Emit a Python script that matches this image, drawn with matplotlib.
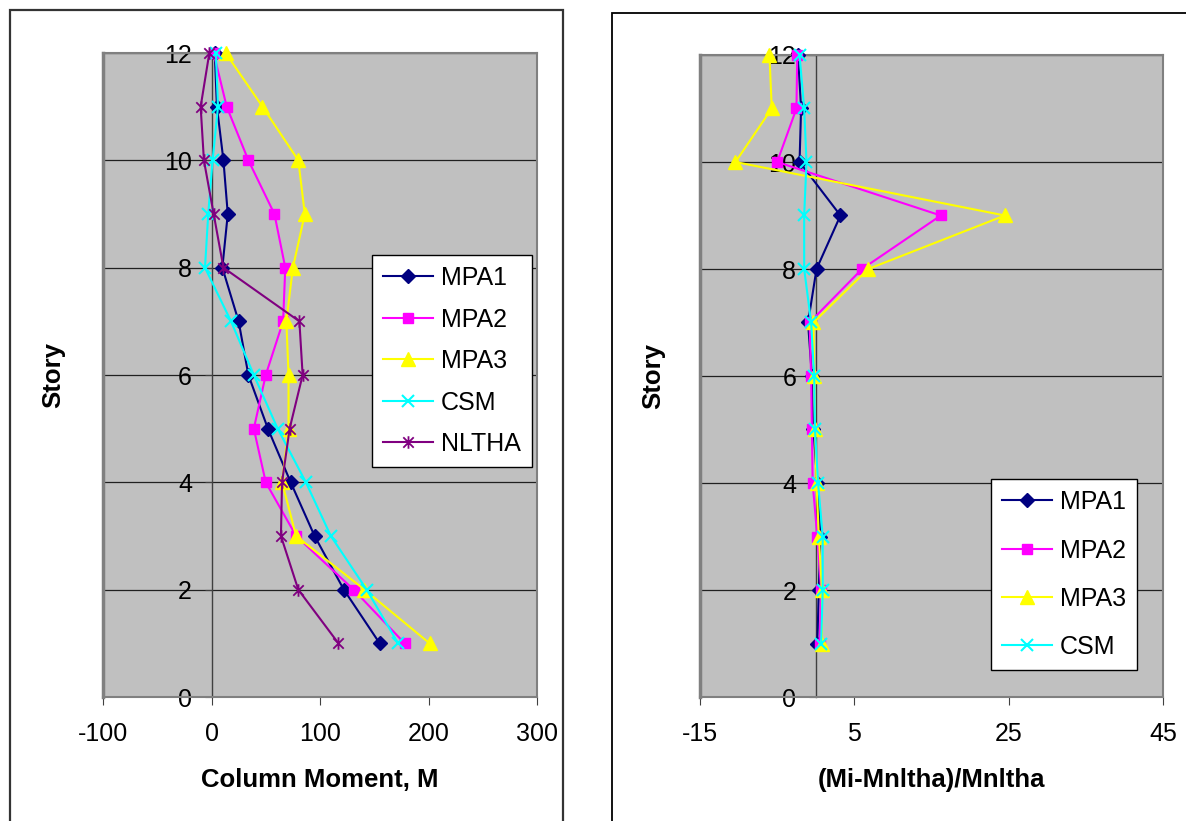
import matplotlib
matplotlib.use("Agg")
import matplotlib.pyplot as plt
from matplotlib.patches import Rectangle
from matplotlib.path import Path

plt.rcParams['font.family'] = ['Liberation Sans', 'DejaVu Sans']
plt.rcParams['axes.unicode_minus'] = False

stories = [12, 11, 10, 9, 8, 7, 6, 5, 4, 3, 2, 1]

# Left chart: column moment
mpa1_m = [3, 5, 11, 15, 10, 25, 34, 52, 73, 95, 122, 155]
mpa2_m = [2, 14, 34, 58, 68, 66, 50, 39, 50, 78, 131, 178]
mpa3_m = [13, 47, 80, 86, 75, 69, 71, 71, 65, 78, 141, 201]
csm_m = [4, 6, 1, -3, -6, 18, 39, 61, 87, 110, 143, 172]
nltha_m = [-2, -10, -7, 2, 11, 81, 84, 72, 65, 64, 80, 117]

# Right chart: normalized error
mpa1_e = [-2.3, -1.9, -2.1, 3.2, 0.1, -1.0, -0.5, -0.3, 0.2, 0.6, 0.4, 0.2]
mpa2_e = [-2.4, -2.5, -5.0, 16.2, 6.0, -0.8, -0.6, -0.5, -0.4, 0.2, 0.7, 0.5]
mpa3_e = [-6.0, -5.7, -10.4, 24.5, 6.8, -0.3, -0.2, -0.1, 0.1, 0.4, 0.8, 0.8]
csm_e = [-2.1, -1.5, -1.2, -1.5, -1.5, -0.6, -0.2, -0.1, 0.3, 0.9, 0.9, 0.7]

left_xticks = [-100, 0, 100, 200, 300]
right_xticks = [-15, 5, 25, 45]
yticks = [0, 2, 4, 6, 8, 10, 12]

# Excel-like star marker: x plus vertical bar
star = Path([(-1, -1), (1, 1), (-1, 1), (1, -1), (0, -1.2), (0, 1.2)],
            [Path.MOVETO, Path.LINETO, Path.MOVETO, Path.LINETO,
             Path.MOVETO, Path.LINETO])

styles = {
    'MPA1': dict(color='#000080', marker='D', ms=7, mec='#000080', mfc='#000080'),
    'MPA2': dict(color='#FF00FF', marker='s', ms=7, mec='#FF00FF', mfc='#FF00FF'),
    'MPA3': dict(color='#FFFF00', marker='^', ms=10, mec='#FFFF00', mfc='#FFFF00'),
    'CSM': dict(color='#00FFFF', marker='x', ms=8, mew=1.5, mec='#00FFFF'),
    'NLTHA': dict(color='#800080', marker=star, ms=9, mew=1.3, mec='#800080'),
}

W, H = 1186, 821
fig = plt.figure(figsize=(W / 100, H / 100), dpi=100)

# outer chart boxes
fig.patches.append(Rectangle((10 / W, -0.05), (563 - 10) / W, 1.05 - 10 / H,
                             transform=fig.transFigure, fill=False,
                             edgecolor='#333333', lw=1.6, zorder=0))
fig.patches.append(Rectangle((612 / W, -0.05), 0.5, 1.05 - 13 / H,
                             transform=fig.transFigure, fill=False,
                             edgecolor='black', lw=1.3, zorder=0))


def setup(ax, xlim, xticks, xlabel):
    ax.set_facecolor('#C0C0C0')
    ax.set_xlim(xlim)
    ax.set_ylim(0, 12)
    ax.set_xticks(xticks)
    ax.set_yticks(yticks)
    for s in ['top', 'right', 'bottom']:
        ax.spines[s].set_color('#808080')
        ax.spines[s].set_linewidth(1.5)
    ax.spines['left'].set_position(('data', 0))
    ax.spines['left'].set_color('#404040')
    ax.spines['left'].set_linewidth(1.0)
    ax.plot([0, 0], [0, 1], transform=ax.transAxes, color='#808080',
            lw=2.5, clip_on=False, zorder=5)
    ax.yaxis.grid(True, color='#202020', lw=0.9)
    ax.set_axisbelow(True)
    ax.tick_params(axis='x', direction='out', length=6, color='#404040',
                   labelsize=18, pad=12)
    ax.tick_params(axis='y', direction='out', length=5, color='#404040',
                   labelsize=18, pad=9)
    ax.set_xlabel(xlabel, fontsize=18.5, fontweight='bold', labelpad=16)
    ax.set_ylabel('Story', fontsize=18.5, fontweight='bold')


legend_kw = dict(loc='upper left', borderaxespad=0, fontsize=18,
                 frameon=True, fancybox=False, edgecolor='black',
                 framealpha=1, handlelength=2.0, borderpad=0.45,
                 handletextpad=0.3)

ax1 = fig.add_axes([103 / W, 1 - 697 / H, (537 - 103) / W, (697 - 53) / H])
setup(ax1, (-100, 300), left_xticks, 'Column Moment, M')
ax1.yaxis.set_label_coords(-0.088, 0.5)
for name, vals in [('MPA1', mpa1_m), ('MPA2', mpa2_m), ('MPA3', mpa3_m),
                   ('CSM', csm_m), ('NLTHA', nltha_m)]:
    ax1.plot(vals, stories, lw=1.5, label=name, clip_on=False, zorder=3,
             **styles[name])
leg1 = ax1.legend(bbox_to_anchor=(372 / W, 1 - 255 / H),
                  bbox_transform=fig.transFigure, labelspacing=0.7,
                  **legend_kw)
leg1.get_frame().set_linewidth(1.0)

ax2 = fig.add_axes([700 / W, 1 - 697 / H, (1163 - 700) / W, (697 - 55) / H])
setup(ax2, (-15, 45), right_xticks, '(Mi-Mnltha)/Mnltha')
ax2.yaxis.set_label_coords(-0.075, 0.5)
for name, vals in [('MPA1', mpa1_e), ('MPA2', mpa2_e), ('MPA3', mpa3_e),
                   ('CSM', csm_e)]:
    ax2.plot(vals, stories, lw=1.5, label=name, clip_on=False, zorder=3,
             **styles[name])
leg2 = ax2.legend(bbox_to_anchor=(991 / W, 1 - 479 / H),
                  bbox_transform=fig.transFigure, labelspacing=0.97,
                  **legend_kw)
leg2.get_frame().set_linewidth(1.0)

fig.savefig('out.png', dpi=100)
